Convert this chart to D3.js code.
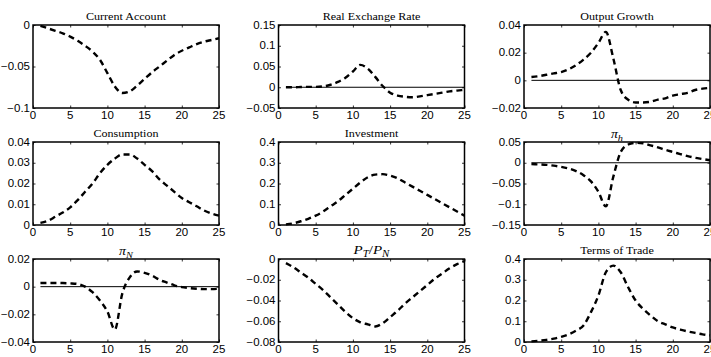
<!DOCTYPE html>
<html>
<head>
<meta charset="utf-8">
<script src="https://cdn.jsdelivr.net/npm/d3@7"></script>
<style>
  body { margin: 0; background: #fff; }
  svg { display: block; }
  .tick-label { font-family: "Liberation Sans", Arial, sans-serif; font-size: 10px; fill: #000; }
  .title { font-family: "Liberation Serif", "Times New Roman", serif; font-size: 10.5px; fill: #000; }
</style>
</head>
<body>
<svg id="chart"></svg>
<script>
// periods after the shock
const periods = d3.range(1, 26);
const xTicks = [0, 5, 10, 15, 20, 25];

// impulse responses
const currentAccount = [-0.001, -0.004, -0.007, -0.010, -0.014, -0.019, -0.025, -0.032, -0.042, -0.058,
  -0.074, -0.082, -0.080, -0.073, -0.065, -0.057, -0.050, -0.043, -0.036, -0.031,
  -0.027, -0.023, -0.020, -0.018, -0.016];
const realExchangeRate = [0.000, 0.000, 0.0005, 0.001, 0.001, 0.002, 0.006, 0.013, 0.023, 0.038,
  0.054, 0.045, 0.025, 0.003, -0.013, -0.020, -0.023, -0.024, -0.022, -0.019,
  -0.016, -0.013, -0.010, -0.008, -0.006];
const outputGrowth = [0.0024, 0.003, 0.004, 0.005, 0.006, 0.008, 0.011, 0.015, 0.020, 0.027,
  0.035, 0.016, -0.007, -0.014, -0.016, -0.016, -0.0155, -0.014, -0.013, -0.011,
  -0.010, -0.009, -0.007, -0.006, -0.0055];
const consumption = [0.001, 0.002, 0.004, 0.006, 0.0085, 0.012, 0.016, 0.020, 0.025, 0.029,
  0.032, 0.034, 0.034, 0.032, 0.029, 0.026, 0.022, 0.019, 0.016, 0.013,
  0.011, 0.009, 0.007, 0.0055, 0.0045];
const investment = [0.003, 0.008, 0.018, 0.030, 0.045, 0.065, 0.090, 0.115, 0.145, 0.175,
  0.205, 0.230, 0.243, 0.245, 0.238, 0.225, 0.205, 0.185, 0.165, 0.145,
  0.125, 0.105, 0.085, 0.065, 0.045];
const piH = [-0.003, -0.004, -0.005, -0.007, -0.010, -0.014, -0.020, -0.030, -0.045, -0.070,
  -0.105, -0.034, 0.026, 0.044, 0.048, 0.047, 0.042, 0.037, 0.031, 0.026,
  0.021, 0.016, 0.012, 0.009, 0.006];
const piN = [0.0026, 0.0027, 0.0027, 0.0026, 0.0024, 0.002, 0.0, -0.004, -0.010, -0.018,
  -0.031, -0.005, 0.0067, 0.011, 0.010, 0.008, 0.005, 0.003, 0.001, -0.0003,
  -0.001, -0.0015, -0.0018, -0.0018, -0.0015];
const relativePrice = [-0.004, -0.008, -0.013, -0.018, -0.024, -0.030, -0.037, -0.044, -0.051, -0.057,
  -0.061, -0.063, -0.065, -0.062, -0.056, -0.050, -0.043, -0.037, -0.031, -0.025,
  -0.019, -0.014, -0.009, -0.005, -0.002];
const termsOfTrade = [0.003, 0.006, 0.010, 0.016, 0.025, 0.037, 0.055, 0.080, 0.144, 0.224,
  0.336, 0.368, 0.336, 0.264, 0.200, 0.160, 0.128, 0.100, 0.085, 0.070,
  0.060, 0.051, 0.044, 0.037, 0.032];

// y tick labels per panel
const ticksCA = [-0.1, -0.05, 0];
const ticksRER = [-0.05, 0, 0.05, 0.1, 0.15];
const ticksOG = [-0.02, 0, 0.02, 0.04];
const ticksC = [0, 0.01, 0.02, 0.03, 0.04];
const ticksI = [0, 0.1, 0.2, 0.3, 0.4];
const ticksPiH = [-0.15, -0.1, -0.05, 0, 0.05];
const ticksPiN = [-0.04, -0.02, 0, 0.02];
const ticksRP = [-0.08, -0.06, -0.04, -0.02, 0];
const ticksTOT = [0, 0.1, 0.2, 0.3, 0.4];

const panels = [
  {title: "Current Account", values: currentAccount, ticks: ticksCA, zero: false},
  {title: "Real Exchange Rate", values: realExchangeRate, ticks: ticksRER, zero: true},
  {title: "Output Growth", values: outputGrowth, ticks: ticksOG, zero: true},
  {title: "Consumption", values: consumption, ticks: ticksC, zero: false},
  {title: "Investment", values: investment, ticks: ticksI, zero: false},
  {title: "piH", values: piH, ticks: ticksPiH, zero: true},
  {title: "piN", values: piN, ticks: ticksPiN, zero: true},
  {title: "PT/PN", values: relativePrice, ticks: ticksRP, zero: false},
  {title: "Terms of Trade", values: termsOfTrade, ticks: ticksTOT, zero: false}
];

const width = 711, height = 357;
const colLeft = [33, 278.5, 524];
const rowTop = [25, 142, 259];
const plotW = 186, plotH = 83;
const tickLen = 2.5;
// the source figure was stretched sideways, so the text is too
const stretch = 1.15;

const svg = d3.select("#chart").attr("width", width).attr("height", height);

// minus sign like matlab
const fmt = v => (v < 0 ? "\u2212" : "") + String(Math.abs(v));
const place = (x, y) => `translate(${x},${y}) scale(${stretch},1)`;

function drawTitle(g, p) {
  const t = g.append("text")
    .attr("class", "title")
    .attr("transform", place(plotW / 2, -5))
    .attr("text-anchor", "middle");
  if (p.title === "piH" || p.title === "piN") {
    t.style("font-size", "12px").attr("transform", place(plotW / 2, -4));
    t.append("tspan").style("font-style", "italic").text("\u03c0");
    t.append("tspan").style("font-style", "italic").style("font-size", "9px")
      .attr("dy", 3).text(p.title === "piH" ? "h" : "N");
  } else if (p.title === "PT/PN") {
    t.style("font-size", "13px").attr("transform", place(plotW / 2, -5));
    t.append("tspan").style("font-style", "italic").text("P");
    t.append("tspan").style("font-style", "italic").style("font-size", "9.5px").attr("dy", 3).text("T");
    t.append("tspan").attr("dy", -3).text("/");
    t.append("tspan").style("font-style", "italic").text("P");
    t.append("tspan").style("font-style", "italic").style("font-size", "9.5px").attr("dy", 3).text("N");
  } else {
    t.text(p.title);
  }
}

panels.forEach((p, i) => {
  const g = svg.append("g")
    .attr("transform", `translate(${colLeft[i % 3]}, ${rowTop[Math.floor(i / 3)]})`);

  const x = d3.scaleLinear().domain([0, 25]).range([0, plotW]);
  const y = d3.scaleLinear().domain(d3.extent(p.ticks)).range([plotH, 0]);

  // ticks inside on all four sides, like a matlab box
  const xAxis = d3.axisBottom(x).tickValues(xTicks).tickSizeInner(-tickLen).tickSizeOuter(0).tickFormat("");
  const yAxis = d3.axisLeft(y).tickValues(p.ticks).tickSizeInner(-tickLen).tickSizeOuter(0).tickFormat("");
  g.append("g").attr("transform", `translate(0,${plotH})`).call(xAxis);
  g.append("g").call(d3.axisTop(x).tickValues(xTicks).tickSizeInner(-tickLen).tickSizeOuter(0).tickFormat(""));
  g.append("g").call(yAxis);
  g.append("g").attr("transform", `translate(${plotW},0)`)
    .call(d3.axisRight(y).tickValues(p.ticks).tickSizeInner(-tickLen).tickSizeOuter(0).tickFormat(""));
  g.selectAll(".domain").remove();
  g.selectAll(".tick line").attr("stroke", "#000").attr("stroke-width", 0.8);

  // tick labels
  g.selectAll(".xlab").data(xTicks).enter().append("text")
    .attr("class", "tick-label")
    .attr("transform", d => place(x(d), plotH + 11))
    .attr("text-anchor", "middle")
    .text(d => d);
  g.selectAll(".ylab").data(p.ticks).enter().append("text")
    .attr("class", "tick-label")
    .attr("transform", d => place(-3, y(d) + 3.5))
    .attr("text-anchor", "end")
    .text(d => fmt(d));

  if (p.zero) {
    g.append("line")
      .attr("x1", x(1)).attr("x2", x(25))
      .attr("y1", y(0)).attr("y2", y(0))
      .attr("stroke", "#000").attr("stroke-width", 1);
  }

  const line = d3.line()
    .x((d, j) => x(periods[j]))
    .y(d => y(d))
    .curve(d3.curveMonotoneX);

  g.append("path")
    .datum(p.values)
    .attr("fill", "none")
    .attr("stroke", "#000")
    .attr("stroke-width", 2.4)
    .attr("stroke-dasharray", "6,4")
    .attr("d", line);

  // box
  g.append("rect")
    .attr("width", plotW).attr("height", plotH)
    .attr("fill", "none").attr("stroke", "#000").attr("stroke-width", 1.5);

  drawTitle(g, p);
});
</script>
</body>
</html>
